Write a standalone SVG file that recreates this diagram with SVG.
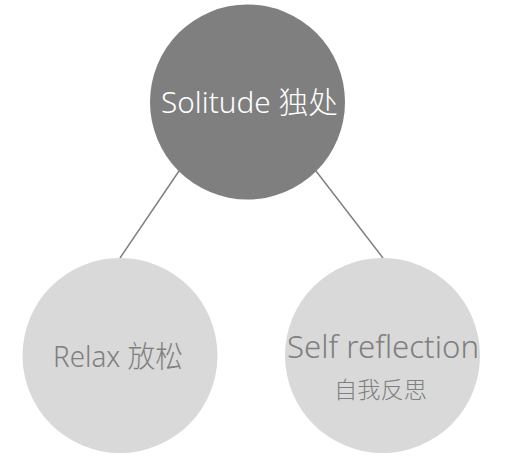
<svg xmlns="http://www.w3.org/2000/svg" width="520" height="458" viewBox="0 0 520 458">
<style>
.lbl{font-family:"Noto Sans","Noto Sans CJK SC",sans-serif;font-weight:300;}
.conn{stroke:#7f7f7f;stroke-width:1.5;fill:none;}
</style>
<rect width="520" height="458" fill="#ffffff"/>
<g id="connectors">
<line class="conn" x1="120" y1="258" x2="179" y2="171"/>
<line class="conn" x1="316" y1="171" x2="383" y2="258"/>
</g>
<g id="node-solitude">
<circle cx="247.5" cy="102" r="97.5" fill="#7f7f7f"/>
<text class="lbl" x="161" y="113" font-size="30" fill="#ffffff" textLength="177" lengthAdjust="spacingAndGlyphs">Solitude 独处</text>
</g>
<g id="node-relax">
<circle cx="120" cy="355.5" r="97.5" fill="#d9d9d9"/>
<text class="lbl" x="53" y="367" font-size="30" fill="#7f7f7f" textLength="130" lengthAdjust="spacingAndGlyphs">Relax 放松</text>
</g>
<g id="node-self">
<circle cx="382.5" cy="355.5" r="97.5" fill="#d9d9d9"/>
<text class="lbl" x="287" y="358" font-size="31" fill="#7f7f7f" textLength="192" lengthAdjust="spacingAndGlyphs">Self reflection</text>
<text class="lbl" x="334" y="398" font-size="23" fill="#7f7f7f" textLength="93" lengthAdjust="spacingAndGlyphs">自我反思</text>
</g>
</svg>
